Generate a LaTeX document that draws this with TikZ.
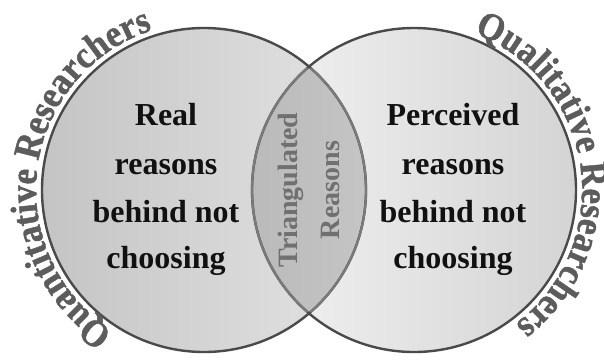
\documentclass[tikz,border=0pt]{standalone}
\usepackage{fontspec}
\setmainfont{Liberation Serif}
\usetikzlibrary{decorations.text}
\definecolor{edge}{HTML}{4A4A4A}
\definecolor{inedge}{HTML}{7A7A7A}
\definecolor{outtxt}{HTML}{5C5C5C}
\definecolor{lenstxt}{HTML}{707070}
\definecolor{maintxt}{HTML}{111111}
\definecolor{lA}{HTML}{C4C4C4}
\definecolor{lB}{HTML}{E4E4E4}
\definecolor{rA}{HTML}{F2F2F2}
\definecolor{rB}{HTML}{D4D4D4}
\definecolor{mA}{HTML}{BABABA}
\definecolor{mB}{HTML}{D8D8D8}
\newfontfamily\outerbold[FakeStretch=0.92,FakeBold=1.2]{Liberation Serif Bold}
\newcommand{\outerfont}{\outerbold\fontsize{38}{38}\selectfont}
\begin{document}
\begin{tikzpicture}[x=1pt,y=1pt,
  maintext/.style={font=\fontsize{32}{32}\selectfont\bfseries, text=maintxt, anchor=base, inner sep=0pt},
  lenstext/.style={font=\fontsize{28}{28}\selectfont\bfseries, text=lenstxt, anchor=base, inner sep=0pt, rotate=90},
  rim/.style={draw=edge, line width=2.4pt},
  innerrim/.style={draw=inedge, line width=2.2pt},
  curved/.style={decorate, font=\outerfont}]
\useasboundingbox (0,0) rectangle (604,360);
\coordinate (L) at (204,170);
\coordinate (R) at (414,170);
% fills
\shade[left color=lA, right color=lB] (L) circle[radius=162];
\shade[left color=rA, right color=rB] (R) circle[radius=162];
\begin{scope}
  \clip (L) circle[radius=162];
  \shade[left color=mA, right color=mB] (R) circle[radius=162];
\end{scope}
% outlines
\draw[rim] (L) circle[radius=162];
\draw[rim] (R) circle[radius=162];
\begin{scope}
  \clip (R) circle[radius=160];
  \draw[innerrim] (L) circle[radius=162];
\end{scope}
\begin{scope}
  \clip (L) circle[radius=160];
  \draw[innerrim] (R) circle[radius=162];
\end{scope}
% main texts
\node[maintext] (a1) at (166,235) {Real};
\node[maintext] (a2) at (166,186) {reasons};
\node[maintext] (a3) at (166,138) {behind not};
\node[maintext] (a4) at (166,92) {choosing};
\node[maintext] (b1) at (453,235) {Perceived};
\node[maintext] (b2) at (453,186) {reasons};
\node[maintext] (b3) at (453,138) {behind not};
\node[maintext] (b4) at (453,92) {choosing};
% lens texts
\node[lenstext] (t1) at (297,170) {Triangulated};
\node[lenstext] (t2) at (339,170) {Reasons};
% outer curved texts
\path[curved, decoration={text along path, text={|\outerfont|Quantitative Researchers}, text align=center, text color=outtxt}]
  (L) ++(262.6:168) arc[start angle=262.6, end angle=82.6, radius=168];
\path[curved, decoration={text along path, text={|\outerfont|Qualitative Researchers}, text align=center, text color=outtxt}]
  (R) ++(98.1:168) arc[start angle=98.1, end angle=-81.9, radius=168];
\end{tikzpicture}
\end{document}
